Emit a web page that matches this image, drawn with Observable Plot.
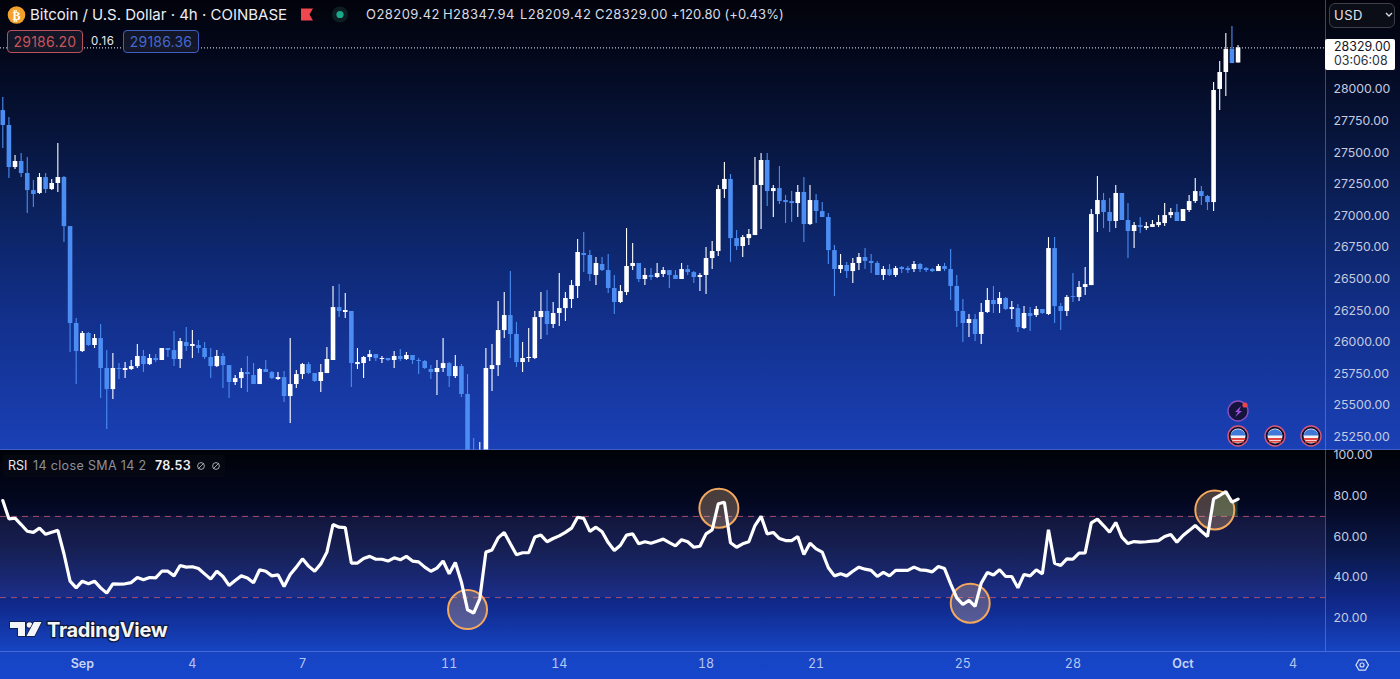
<!DOCTYPE html>
<html>
<head>
<meta charset="utf-8">
<script src="https://cdn.jsdelivr.net/npm/d3@7"></script>
<script src="https://cdn.jsdelivr.net/npm/@observablehq/plot@0.6"></script>
<style>
html,body{margin:0;padding:0;background:#02030a;overflow:hidden}
#chart{position:relative;width:1400px;height:679px;overflow:hidden;font-family:Inter,"Noto Sans",sans-serif}
#paneMain{position:absolute;left:0;top:0;width:1400px;height:450px;background:linear-gradient(180deg,#02030a 0,#03071a 50px,#061235 120px,#0c2464 225px,#12308c 320px,#1a40b6 450px)}
#paneRsi{position:absolute;left:0;top:450px;width:1400px;height:229px;background:linear-gradient(180deg,#000208 0,#03071f 50px,#0a1848 100px,#10298c 155px,#1644c2 201px,#1646cc 229px)}
#paneMain svg{position:absolute;left:0;top:0;display:block;background:transparent}
#paneRsi svg{position:absolute;left:0;top:-8px;display:block;background:transparent;overflow:visible}
.t{position:absolute;white-space:nowrap;line-height:1}
.box{position:absolute;border-radius:4px;background:rgba(20,24,40,.9);box-sizing:border-box;font-size:14px;text-align:center;line-height:21px;letter-spacing:.2px}
.sep{position:absolute;background:rgba(125,155,235,.45)}
#overlay{position:absolute;left:0;top:0;pointer-events:none}
</style>
</head>
<body>
<div id="chart">
  <div id="paneMain"></div>
  <div id="paneRsi"></div>
  <div class="sep" style="left:1325px;top:0;width:1px;height:651px"></div>
  <div class="sep" style="left:0;top:651px;width:1400px;height:1px"></div>
  <div class="sep" style="left:0;top:449px;width:1400px;height:1px;background:rgba(90,120,200,.6)"></div>

  <div class="t" style="left:30px;top:7px;font-size:15px;color:#eceef3">Bitcoin / U.S. Dollar · 4h · COINBASE</div>
  <div class="t" style="left:366px;top:8px;font-size:13px;color:#d9dce4;letter-spacing:.45px">O28209.42</div>
  <div class="t" style="left:443px;top:8px;font-size:13px;color:#d9dce4;letter-spacing:.45px">H28347.94</div>
  <div class="t" style="left:520px;top:8px;font-size:13px;color:#d9dce4;letter-spacing:.45px">L28209.42</div>
  <div class="t" style="left:595px;top:8px;font-size:13px;color:#d9dce4;letter-spacing:.45px">C28329.00</div>
  <div class="t" style="left:671px;top:8px;font-size:13px;color:#d9dce4;letter-spacing:.05px">+120.80 (+0.43%)</div>

  <div class="box" style="left:7px;top:30px;width:76px;height:23px;border:1px solid #b9525c;color:#c8545c">29186.20</div>
  <div class="t" style="left:91px;top:36px;font-size:11.5px;color:#e6e8ee;letter-spacing:.6px">0.16</div>
  <div class="box" style="left:123px;top:30px;width:76px;height:23px;border:1px solid #3f5fc4;color:#4567cf">29186.36</div>

  <div style="position:absolute;left:1329px;top:3px;width:66px;height:25px;box-sizing:border-box;border:1px solid #3b404c;border-radius:6px;background:#0b0e16"></div>
  <div class="t" style="left:1334px;top:9px;font-size:13px;color:#e4e6ec;letter-spacing:.5px">USD</div>

  <div style="position:absolute;left:1325px;top:39px;width:70px;height:31px;background:#fff;border-radius:2px"></div>
  <div class="t" style="left:1334px;top:41px;font-size:12.4px;color:#10131c;letter-spacing:0">28329.00</div>
  <div class="t" style="left:1334px;top:55px;font-size:12.4px;color:#2b2f3a;letter-spacing:0">03:06:08</div>

  <div style="position:absolute;left:3px;top:455px;width:222px;height:22px;background:rgba(10,12,20,.55);border-radius:3px"></div>
  <div class="t" style="left:8px;top:460px;font-size:12.5px;color:#e8eaf0">RSI</div>
  <div class="t" style="left:33px;top:460px;font-size:12.5px;color:#8d909a;letter-spacing:.35px">14 close SMA 14 2</div>
  <div class="t" style="left:155px;top:460px;font-size:12.5px;font-weight:600;color:#f0f1f5;letter-spacing:.3px">78.53</div>

  <svg id="overlay" width="1400" height="679" viewBox="0 0 1400 679" xmlns="http://www.w3.org/2000/svg">
    <defs>
      <g id="flag">
        <circle r="10" fill="#0b1030" stroke="#d9587a" stroke-width="1.4"/>
        <circle r="7.5" fill="#f2f3f6"/>
        <path d="M-7.2 2h14.4v2.2h-14.4z" fill="#e0453f"/>
        <path d="M-5.8 5h11.6v1.6h-11.6z" fill="#e0453f"/>
        <path d="M-7.4 -0.5A7.5 7.5 0 0 1 7.4 -0.5z" fill="#3e78d8"/>
      </g>
      <g id="noSign" fill="none" stroke="#a3a6ae" stroke-width="1">
        <circle r="3.4"/>
        <path d="M-3 3L3 -3"/>
      </g>
    </defs>
    <use href="#noSign" x="201" y="466"/>
    <use href="#noSign" x="216" y="466"/>
    <circle cx="16.5" cy="15" r="8.8" fill="#f4a02c"/>
    <text x="16.5" y="19.5" font-size="12" font-weight="700" fill="#fff" text-anchor="middle" font-family="DejaVu Sans">₿</text>
    <path d="M301 8.5h12l-3.5 6 3.5 6h-12z" fill="#f0474e"/>
    <circle cx="340" cy="14.5" r="8" fill="#0c1e22"/>
    <circle cx="340" cy="14.5" r="3.6" fill="#1ba98c"/>
    <path d="M1386 13l3 3 3-3" fill="none" stroke="#d8dae0" stroke-width="1.4"/>
    <circle cx="1238" cy="411" r="10" fill="#14143c" stroke="#8b4fc4" stroke-width="1.4"/>
    <path d="M1241 406l-6 6h3l-3 5 7-6h-3z" fill="#a14fe0"/>
    <circle cx="1245" cy="405" r="2.6" fill="#ee4452"/>
    <use href="#flag" x="1238" y="436"/>
    <use href="#flag" x="1275" y="436"/>
    <use href="#flag" x="1311" y="436"/>
    <g stroke="#101a3c" stroke-width="1.5" paint-order="stroke" fill="#f4f5f8">
      <path d="M10 622h15v14h-7v-8h-8z"/>
      <circle cx="29.5" cy="625" r="2.8"/>
      <path d="M34 622h7.5l-7 14h-8z"/>
      <text x="47" y="637" font-size="20" font-weight="700" font-family="Inter" stroke-width="2.5" letter-spacing="-.3">TradingView</text>
    </g>
    <path d="M1356 665l3-5.2h6.4l3 5.2-3 5.2h-6.4z" fill="none" stroke="#d6def5" stroke-width="1.3"/>
    <circle cx="1362" cy="665" r="2" fill="none" stroke="#d6def5" stroke-width="1.2"/>
  </svg>
</div>
<script>
const opens=[27833,27715,27382,27430,27335,27200,27177,27303,27208,27256,27303,26915,26148,25926,26069,25974,26029,25792,25625,25792,25776,25784,25807,25887,25823,25871,25855,25950,25934,25863,
25997,25966,25974,25950,25879,25807,25887,25815,25681,25712,25760,25736,25665,25784,25760,25705,25720,25570,25665,25744,25823,25752,25689,25752,25855,26274,26235,26243,25823,25831,
25879,25902,25863,25871,25855,25887,25863,25895,25855,25847,25784,25760,25792,25831,25728,25807,25586,25024,25000,25040,25784,25815,26092,26211,26061,25839,25871,25871,26195,26243,
26140,26227,26266,26338,26441,26702,26686,26528,26615,26567,26425,26314,26393,26599,26623,26496,26528,26512,26536,26567,26528,26496,26575,26551,26512,26528,26662,26718,27208,27288,
26820,26757,26820,26844,27240,27438,27192,27216,27121,27113,27097,27185,26931,27121,27034,26987,26725,26575,26607,26559,26623,26670,26639,26623,26528,26575,26528,26591,26583,26575,
26615,26583,26575,26559,26599,26575,26441,26243,26148,26179,26061,26235,26330,26298,26346,26259,26266,26108,26227,26211,26259,26219,26741,26282,26243,26361,26354,26433,26448,27010,
27121,27026,26955,27177,26963,26876,26923,26900,26908,26923,26939,27002,27026,26955,27042,27113,27192,27153,27105,28000,28134,28316,28209.42];
const highs=[27936,27778,27477,27493,27462,27280,27335,27335,27288,27572,27311,26915,26187,26084,26077,26061,26140,25934,25910,25831,25839,25855,25982,25934,25902,25902,25950,25950,26084,26029,
26116,26092,26013,25997,25950,25934,25910,25815,25736,25792,25887,25831,25792,25855,25768,25760,25768,26029,25776,25831,25839,25752,25823,25958,26441,26456,26385,26243,25950,25887,
25934,25902,25887,25871,25926,25942,25918,25895,25871,25855,25815,25855,26029,25839,25895,25823,25744,25238,25206,25950,25982,26322,26393,26559,26156,25997,26108,26243,26393,26409,
26314,26543,26393,26488,26813,26868,26725,26670,26670,26694,26528,26448,26900,26781,26623,26583,26583,26623,26591,26567,26567,26623,26607,26559,26543,26749,26797,27240,27422,27327,
26884,26844,26892,27462,27493,27493,27240,27390,27161,27192,27240,27303,27240,27169,27105,27018,26765,26694,26631,26662,26702,26741,26694,26639,26599,26615,26599,26599,26599,26639,
26623,26591,26583,26615,26623,26733,26528,26338,26219,26219,26306,26425,26441,26393,26354,26322,26298,26282,26274,26282,26259,26828,26828,26306,26369,26543,26480,26591,27050,27311,
27177,27137,27240,27177,27097,26947,26987,26947,26963,27002,27097,27058,27090,27050,27161,27295,27232,27161,28055,28221,28443,28498,28347.94];
const lows=[27533,27295,27367,27303,27018,27066,27169,27177,27200,27185,26789,25918,25665,25918,25966,25950,25554,25309,25546,25705,25712,25776,25792,25760,25815,25839,25855,25879,25807,25792,
25926,25871,25910,25863,25712,25800,25633,25554,25657,25633,25602,25665,25665,25760,25705,25697,25523,25356,25633,25705,25744,25681,25602,25752,25855,26195,26187,25641,25784,25712,
25847,25847,25831,25847,25792,25847,25855,25823,25744,25784,25705,25578,25760,25641,25712,25562,24984,24950,24950,25000,25610,25728,26029,25871,25800,25760,25839,25863,26021,26053,
26108,26124,26164,26266,26346,26551,26480,26448,26559,26385,26219,26306,26369,26567,26472,26448,26488,26504,26512,26425,26496,26496,26528,26464,26401,26377,26575,26678,27137,26631,
26725,26670,26765,26844,26892,27074,26987,27090,26939,26947,26987,26789,26923,26939,26987,26615,26361,26543,26504,26464,26567,26575,26543,26528,26488,26520,26512,26543,26543,26551,
26551,26551,26551,26559,26559,26330,26116,25997,26037,26005,25982,26227,26227,26227,26251,26179,26077,26100,26084,26195,26219,26211,26148,26092,26203,26314,26322,26369,26448,26868,
26900,26868,26900,26963,26662,26741,26860,26884,26908,26908,26915,26979,26955,26955,27026,27097,27082,27042,27034,27833,27944,28205,28209.42];
const closes=[27715,27382,27430,27335,27200,27169,27303,27208,27256,27303,26915,26148,25926,26069,25974,26029,25792,25625,25792,25784,25792,25807,25887,25823,25871,25855,25950,25934,25863,26005,
25966,25982,25950,25879,25807,25887,25815,25681,25712,25760,25744,25665,25784,25760,25712,25720,25570,25665,25744,25823,25752,25689,25760,25863,26274,26243,26251,25831,25839,25879,
25902,25871,25871,25855,25887,25863,25895,25855,25847,25792,25760,25792,25831,25728,25807,25586,25024,25000,25050,25792,25815,26092,26211,26061,25839,25871,25879,26195,26243,26140,
26227,26266,26346,26448,26710,26686,26536,26623,26567,26425,26314,26401,26599,26623,26496,26528,26512,26543,26567,26528,26496,26575,26551,26512,26528,26662,26718,27208,27288,26820,
26757,26828,26852,27240,27438,27192,27216,27113,27105,27097,27185,26931,27121,27034,26987,26725,26575,26607,26559,26623,26670,26639,26623,26528,26575,26528,26583,26575,26567,26615,
26575,26567,26559,26599,26575,26441,26243,26148,26179,26061,26235,26330,26298,26346,26259,26274,26116,26227,26203,26259,26227,26741,26282,26243,26354,26354,26433,26456,27010,27121,
27026,26955,27177,26963,26876,26923,26908,26915,26931,26947,27002,27026,26955,27050,27113,27192,27153,27105,27992,28134,28316,28205,28329];

const rsiValues=[77.8,68.8,69.1,66.0,62.7,62.1,64.2,61.2,62.2,63.1,51.6,38.1,34.8,38.1,36.8,38.1,34.8,32.2,36.8,36.6,36.8,37.4,39.9,38.8,39.9,39.7,43.0,43.0,40.7,45.8,
45.0,45.2,44.3,41.7,39.1,43.0,40.4,36.0,38.4,40.7,39.7,37.3,43.7,43.0,40.7,41.2,35.5,41.4,45.0,49.1,45.5,43.0,46.6,52.4,66.0,64.7,64.5,47.0,47.0,49.3,
50.3,48.9,48.9,48.0,49.6,48.6,50.3,48.0,47.6,45.0,43.0,44.5,48.0,41.7,47.3,37.6,24.0,22.4,29.4,52.4,53.5,59.4,62.1,56.5,51.1,52.1,52.1,59.8,60.8,57.5,
59.1,60.4,62.1,64.2,69.6,69.0,62.6,64.7,62.4,57.1,53.2,55.8,60.8,61.4,56.5,57.5,56.8,57.8,58.8,57.1,55.5,58.5,57.5,54.8,55.3,61.4,63.4,76.2,77.0,57.0,
54.8,56.5,57.5,65.5,70.0,61.4,62.1,59.1,58.1,58.1,60.1,51.2,56.8,54.0,52.4,44.7,40.7,41.7,40.7,43.0,45.0,44.0,43.4,40.4,42.4,40.7,43.4,43.4,43.4,45.0,
43.7,43.4,42.7,45.3,44.3,36.8,29.9,26.6,28.6,25.7,37.1,42.4,41.1,43.7,40.4,40.4,34.8,41.4,40.7,43.7,41.7,63.4,46.9,45.8,49.1,48.9,51.9,52.0,66.8,68.6,
65.5,62.2,67.0,59.8,56.6,57.6,57.3,57.5,57.8,58.1,60.1,61.1,57.3,60.6,63.0,65.5,62.7,60.1,78.6,80.3,82.2,77.0,78.53];

const priceTicks=[25250,25500,25750,26000,26250,26500,26750,27000,27250,27500,27750,28000];
const lastPrice=28329;
const rsiTicks=[20,40,60,80,100];
const rsiBands=[70,30];
const circleIndex=[76,117.1,158.2,198.2];
const circleRsi=[24.1,74.0,27.2,73.2];
const dayTickIndex=[31,49,73,91,115,133,157,175,211];
const dayTickLabels=["4","7","11","14","18","21","25","28","4"];
const monthTickIndex=[13,193];
const monthTickLabels=["Sep","Oct"];

const xDomain=[-0.376,216.3];
const candles=opens.map((o,i)=>({i,o,h:highs[i],l:lows[i],c:closes[i]}));
const up=candles.filter(d=>d.c>=d.o);
const down=candles.filter(d=>d.c<d.o);
const rsiRows=rsiValues.map((v,i)=>({i,v}));
const circles=circleIndex.map((i,k)=>({i,v:circleRsi[k]}));
const WHITE="#ffffff",BLUE="#4b8df2",AXIS="#c4cbe0";
const axisFont="Inter";

function candleMarks(rows,color){
  return [
    Plot.ruleX(rows,{x:"i",y1:"l",y2:"h",stroke:color,strokeWidth:1.1,clip:true}),
    Plot.ruleX(rows,{x:"i",y1:"o",y2:"c",stroke:color,strokeWidth:4.6,clip:true})
  ];
}

const main=Plot.plot({
  width:1400,height:450,marginTop:0,marginBottom:0,marginLeft:0,marginRight:75,
  style:{background:"transparent",fontFamily:axisFont},
  x:{domain:xDomain,axis:null},
  y:{domain:[25143,28704],axis:null},
  marks:[
    Plot.ruleY([lastPrice],{stroke:"#f2f4fa",strokeWidth:1,strokeDasharray:"1,2"}),
    ...candleMarks(down,BLUE),
    ...candleMarks(up,WHITE),
    Plot.axisY(priceTicks,{anchor:"right",tickSize:0,tickPadding:8,tickFormat:d=>d.toFixed(2),label:null,color:AXIS,fontSize:12.3,fontVariant:"normal"})
  ]
});
document.getElementById("paneMain").appendChild(main);

const rsi=Plot.plot({
  width:1400,height:237,marginTop:8,marginBottom:28,marginLeft:0,marginRight:75,
  style:{background:"transparent",fontFamily:axisFont},
  x:{domain:xDomain,axis:null},
  y:{domain:[3.45,102.46],axis:null},
  marks:[
    Plot.rect([0],{y1:30,y2:70,fill:"#8a6cc8",fillOpacity:.1}),
    Plot.ruleY(rsiBands,{stroke:"#c0566e",strokeOpacity:.85,strokeWidth:1,strokeDasharray:"6,5"}),
    Plot.areaY(rsiRows.slice(198),{x:"i",y1:70,y2:"v",fill:"#4f9a50",fillOpacity:.35}),
    Plot.dot(circles,{x:"i",y:"v",r:19.5,fill:"#ffc890",fillOpacity:.28,stroke:"#f3a85e",strokeWidth:2}),
    Plot.line(rsiRows,{x:"i",y:"v",stroke:"#ffffff",strokeWidth:3.2,strokeLinejoin:"miter",curve:"linear"}),
    Plot.axisY(rsiTicks,{anchor:"right",tickSize:0,tickPadding:8,tickFormat:d=>d.toFixed(2),label:null,color:AXIS,fontSize:12.3,fontVariant:"normal"}),
    Plot.axisX(dayTickIndex,{anchor:"bottom",tickSize:0,tickPadding:8,tickFormat:d=>dayTickLabels[dayTickIndex.indexOf(d)],label:null,color:"#b6c6f0",fontSize:12.5}),
    Plot.axisX(monthTickIndex,{anchor:"bottom",tickSize:0,tickPadding:8,tickFormat:d=>monthTickLabels[monthTickIndex.indexOf(d)],label:null,color:"#c8d4f5",fontSize:12.5,fontWeight:600})
  ]
});
document.getElementById("paneRsi").appendChild(rsi);
</script>
</body>
</html>
